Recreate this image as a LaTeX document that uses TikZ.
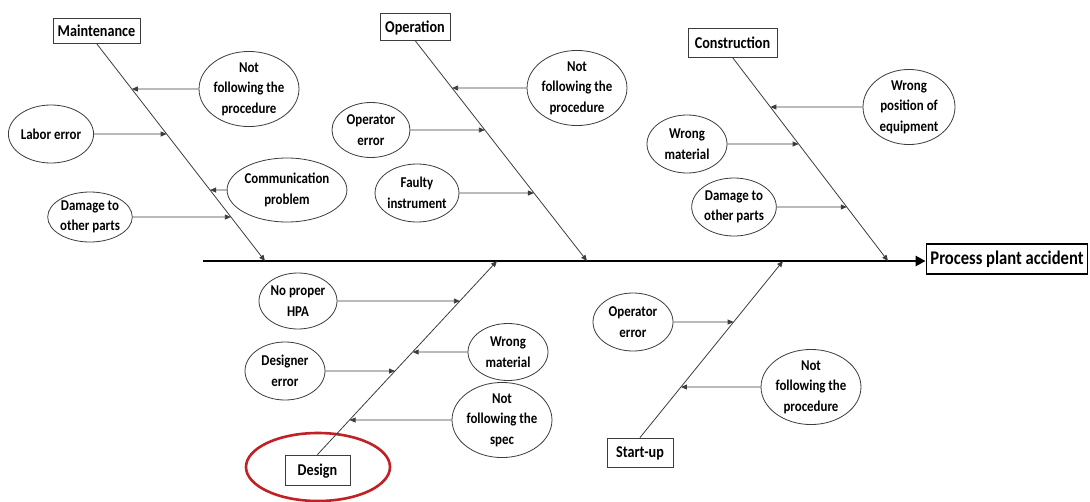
\documentclass[tikz,border=0pt]{standalone}
\usepackage{fontspec}
\setmainfont{Carlito}
\newfontfamily\lbl[FakeStretch=0.86]{Carlito}
\usetikzlibrary{arrows.meta,shapes.geometric}
\definecolor{linegray}{RGB}{60,60,60}
\definecolor{ringred}{RGB}{192,32,38}
\tikzset{
  cat/.style={draw=linegray, line width=0.9pt, fill=white, font=\lbl\bfseries\fontsize{16.5}{18}\selectfont,
              inner sep=0pt, minimum height=26pt, text depth=0pt},
  cause/.style={ellipse, draw=linegray, line width=0.8pt, fill=white, inner sep=0pt, align=center,
                font=\lbl\bfseries\fontsize{15}{20.5}\selectfont},
  bone/.style={draw=linegray, line width=0.8pt, -{Triangle[length=6pt,width=5pt]}},
  feed/.style={draw=linegray, line width=0.8pt, -{Triangle[length=6pt,width=5pt]}},
  spine/.style={draw=black, line width=2.8pt, -{Triangle[length=10pt,width=10pt]}},
}
\begin{document}
\begin{tikzpicture}[x=1pt,y=-1pt]
\useasboundingbox (0,0) rectangle (1090,501);

% effect box and main spine
\node[draw=black, line width=1.8pt, inner sep=0pt, minimum width=161pt, minimum height=30pt,
      font=\lbl\bfseries\fontsize{19.3}{21}\selectfont] (eff) at (1007,259) {Process plant accident};
\coordinate (tail) at (203,261);
\draw[spine] (tail) -- (tail -| eff.west);

% category boxes
\node[cat, minimum width=87pt, minimum height=25pt] (mt) at (96.5,30.5) {Maintenance};
\node[cat, minimum width=70pt, minimum height=27pt] (op) at (415,26.5) {Operation};
\node[cat, minimum width=89pt, minimum height=29pt] (cs) at (732.5,42.5) {Construction};
\node[cat, minimum width=65pt, minimum height=30pt] (ds) at (317.5,470) {Design};
\node[cat, minimum width=66pt, minimum height=29pt] (su) at (640,452.5) {Start-up};

% the highlight ring around Design
\draw[ringred, line width=2.6pt] (318,467) ellipse [x radius=72, y radius=34];

% where the bones meet the spine
\coordinate (mtE) at (265,261);
\coordinate (opE) at (587,261);
\coordinate (csE) at (888,261);
\coordinate (dsE) at (497,261);
\coordinate (suE) at (783,261);

\draw[bone] (mt.south) -- (mtE);
\draw[bone] (op.south) -- (opE);
\draw[bone] (cs.south) -- (csE);
\draw[bone] (ds.north) -- (dsE);
\draw[bone] (su.north) -- (suE);

% Maintenance causes
\node[cause, minimum width=92pt, minimum height=52pt] (m1) at (249,89) {Not\\following the\\procedure};
\node[cause, minimum width=78pt, minimum height=58pt] (m2) at (51,134) {Labor error};
\node[cause, minimum width=110pt, minimum height=64pt] (m3) at (287,190) {Communication\\problem};
\node[cause, minimum width=80pt, minimum height=50pt] (m4) at (90,217) {Damage to\\other parts};
\coordinate (m1p) at (intersection of mt.south--mtE and 0,89--1000,89);
\coordinate (m2p) at (intersection of mt.south--mtE and 0,134--1000,134);
\coordinate (m3p) at (intersection of mt.south--mtE and 0,190--1000,190);
\coordinate (m4p) at (intersection of mt.south--mtE and 0,217--1000,217);
\draw[feed] (m1) -- (m1p);
\draw[feed] (m2) -- (m2p);
\draw[feed] (m3) -- (m3p);
\draw[feed] (m4) -- (m4p);

% Operation causes
\node[cause, minimum width=92pt, minimum height=62pt] (o1) at (577,88) {Not\\following the\\procedure};
\node[cause, minimum width=78pt, minimum height=55pt] (o2) at (371,130) {Operator\\error};
\node[cause, minimum width=80pt, minimum height=58pt] (o3) at (417,193) {Faulty\\instrument};
\coordinate (o1p) at (intersection of op.south--opE and 0,88--1000,88);
\coordinate (o2p) at (intersection of op.south--opE and 0,130--1000,130);
\coordinate (o3p) at (intersection of op.south--opE and 0,193--1000,193);
\draw[feed] (o1) -- (o1p);
\draw[feed] (o2) -- (o2p);
\draw[feed] (o3) -- (o3p);

% Construction causes
\node[cause, minimum width=92pt, minimum height=68pt] (c1) at (909,107) {Wrong\\position of\\equipment};
\node[cause, minimum width=80pt, minimum height=58pt] (c2) at (687,144) {Wrong\\material};
\node[cause, minimum width=78pt, minimum height=58pt] (c3) at (734,207) {Damage to\\other parts};
\coordinate (c1p) at (intersection of cs.south--csE and 0,107--1000,107);
\coordinate (c2p) at (intersection of cs.south--csE and 0,144--1000,144);
\coordinate (c3p) at (intersection of cs.south--csE and 0,207--1000,207);
\draw[feed] (c1) -- (c1p);
\draw[feed] (c2) -- (c2p);
\draw[feed] (c3) -- (c3p);

% Design causes
\node[cause, minimum width=78pt, minimum height=56pt] (d1) at (298,301) {No proper\\HPA};
\node[cause, minimum width=80pt, minimum height=57pt] (d2) at (508,352) {Wrong\\material};
\node[cause, minimum width=80pt, minimum height=58pt] (d3) at (285,371) {Designer\\error};
\node[cause, minimum width=92pt, minimum height=66pt] (d4) at (502,420) {Not\\following the\\spec};
\coordinate (d1p) at (intersection of ds.north--dsE and 0,301--1000,301);
\coordinate (d2p) at (intersection of ds.north--dsE and 0,352--1000,352);
\coordinate (d3p) at (intersection of ds.north--dsE and 0,371--1000,371);
\coordinate (d4p) at (intersection of ds.north--dsE and 0,420--1000,420);
\draw[feed] (d1) -- (d1p);
\draw[feed] (d2) -- (d2p);
\draw[feed] (d3) -- (d3p);
\draw[feed] (d4) -- (d4p);

% Start-up causes
\node[cause, minimum width=80pt, minimum height=58pt] (s1) at (633,322) {Operator\\error};
\node[cause, minimum width=94pt, minimum height=68pt] (s2) at (811,387) {Not\\following the\\procedure};
\coordinate (s1p) at (intersection of su.north--suE and 0,322--1000,322);
\coordinate (s2p) at (intersection of su.north--suE and 0,387--1000,387);
\draw[feed] (s1) -- (s1p);
\draw[feed] (s2) -- (s2p);
\end{tikzpicture}
\end{document}
